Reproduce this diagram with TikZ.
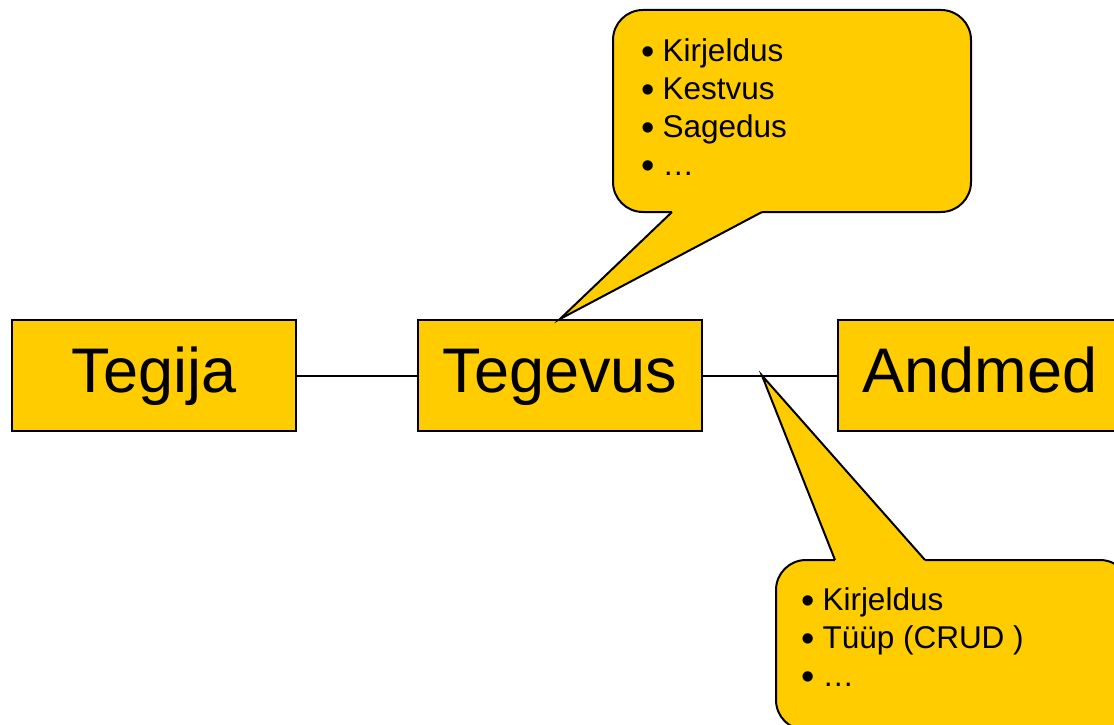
\documentclass[tikz,border=0pt]{standalone}
\usepackage{fontspec}
\setmainfont{Liberation Sans}
\usetikzlibrary{calc}
\definecolor{boxfill}{HTML}{FFCC00}
\newcommand\bulitem{\raisebox{-3pt}{\fontsize{38}{38}\selectfont\textbullet}\hspace{8pt}}
\begin{document}
\begin{tikzpicture}[x=1pt,y=-1pt,
  entity/.style={draw=black, line width=2pt, fill=boxfill,
    minimum width=284pt, minimum height=111pt, inner sep=0pt,
    text height=45pt, text depth=12pt,
    font=\fontsize{63}{72}\selectfont},
  link/.style={draw=black, line width=2pt},
  balloon/.style={draw=black, line width=2pt, fill=boxfill, rounded corners=30pt},
  tailfill/.style={fill=boxfill},
  tailedge/.style={draw=black, line width=2pt, line join=miter},
  bullets/.style={anchor=north west, inner sep=0pt, align=left,
    font=\fontsize{31.5}{38}\selectfont}]
\useasboundingbox (0,0) rectangle (1114,725);
\clip (0,0) rectangle (1114,725);

% entities
\node[entity] (tegija)  at (154,375.5) {Tegija};
\node[entity] (tegevus) at (560,375.5) {Tegevus};
\node[entity] (andmed)  at (980,375.5) {Andmed};

% relations
\draw[link] (tegija.east) -- (tegevus.west);
\draw[link] (tegevus.east) -- (andmed.west);
\coordinate (linkpt) at ($(tegevus.east)!0.44!(andmed.west)$);

% callout on the activity
\coordinate (ta) at (672,212);
\coordinate (tb) at (762,212);
\path[balloon] (613,10) rectangle (971,212);
\fill[tailfill] (tegevus.north) -- (ta) -- ([yshift=10pt]ta) -- ([yshift=10pt]tb) -- (tb) -- cycle;
\draw[tailedge] (ta) -- (tegevus.north) -- (tb);
\node[bullets] (actinfo) at (641,38)
  {\bulitem Kirjeldus\\ \bulitem Kestvus\\ \bulitem Sagedus\\ \bulitem …};

% callout on the data relation
\coordinate (ba) at (835,560);
\coordinate (bb) at (925,560);
\path[balloon] (776,560) rectangle (1130,730);
\fill[tailfill] (linkpt) -- (ba) -- ([yshift=-10pt]ba) -- ([yshift=-10pt]bb) -- (bb) -- cycle;
\draw[tailedge] (ba) -- (linkpt) -- (bb);
\node[bullets] (datainfo) at (801,587)
  {\bulitem Kirjeldus\\ \bulitem Tüüp (CRUD )\\ \bulitem …};
\end{tikzpicture}
\end{document}
